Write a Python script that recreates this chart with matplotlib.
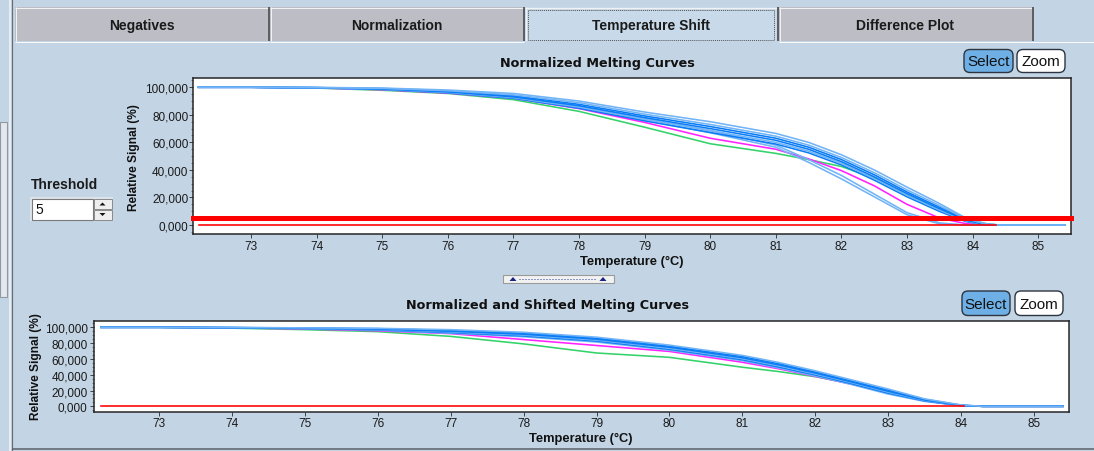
import matplotlib
matplotlib.use('Agg')
import matplotlib.pyplot as plt
from matplotlib.patches import Rectangle, FancyBboxPatch, Polygon
from matplotlib.ticker import MultipleLocator

plt.rcParams['font.family'] = ['Liberation Sans', 'DejaVu Sans']

# ---------------- data ----------------
TABS = ['Negatives', 'Normalization', 'Temperature Shift', 'Difference Plot']
TOP_TITLE = 'Normalized Melting Curves'
BOT_TITLE = 'Normalized and Shifted Melting Curves'
XLABEL = 'Temperature (°C)'
YLABEL = 'Relative Signal (%)'
XTICKS = [73, 74, 75, 76, 77, 78, 79, 80, 81, 82, 83, 84, 85]
YTICKS = [0, 20, 40, 60, 80, 100]
YTICK_LABELS = ['0,000', '20,000', '40,000', '60,000', '80,000', '100,000']
THRESHOLD = 5

# top panel: normalized curves
T_TOP = [72.2, 73.0, 74.0, 75.0, 76.0, 77.0, 78.0, 79.0, 80.0, 81.0, 81.5, 82.0, 82.5, 83.0, 83.5, 83.9, 84.2, 84.4, 85.4]
TOP_U1 = [100, 100, 99.9, 99.4, 98.0, 95.5, 90.0, 82.0, 75.0, 66.5, 60.0, 51.0, 40.0, 27.5, 15.5, 5.0, 1.0, 0, 0]
TOP_U2 = [100, 100, 99.8, 99.2, 97.5, 94.5, 88.8, 80.5, 73.0, 64.5, 58.0, 49.0, 38.0, 25.5, 14.0, 4.5, 0.8, 0, 0]
TOP_U3 = [100, 100, 99.7, 99.0, 97.1, 93.8, 87.6, 79.2, 71.5, 63.0, 56.5, 47.5, 36.5, 24.0, 12.8, 4.0, 0.5, 0, 0]
TOP_U4 = [100, 100, 99.7, 98.8, 96.7, 93.1, 86.6, 78.0, 70.0, 61.5, 55.0, 46.0, 35.0, 22.8, 11.8, 3.5, 0.3, 0, 0]
TOP_U5 = [100, 100, 99.6, 98.6, 96.3, 92.5, 85.6, 76.8, 68.6, 60.0, 53.6, 44.8, 33.8, 21.6, 10.8, 3.0, 0, 0, 0]
TOP_U6 = [100, 100, 99.6, 98.5, 96.0, 92.0, 84.8, 75.6, 67.2, 58.8, 52.4, 43.6, 32.6, 20.5, 9.8, 2.5, 0, 0, 0]
TOP_L1 = [100, 100, 99.7, 98.7, 96.6, 92.8, 86.2, 77.5, 68.5, 58.0, 47.5, 36.0, 22.5, 9.0, 1.5, 0, 0, 0, 0]
TOP_L2 = [100, 100, 99.6, 98.5, 96.3, 92.2, 85.3, 76.3, 67.0, 56.5, 45.5, 33.5, 20.5, 7.5, 0.8, 0, 0, 0, 0]
TOP_MAG = [100, 100, 99.5, 98.2, 95.8, 92.0, 84.5, 74.5, 63.0, 55.0, 48.0, 39.5, 28.5, 15.0, 5.0, 1.0, 0, 0, 0]
TOP_GRN = [100, 100, 99.4, 97.8, 95.5, 91.0, 82.5, 71.0, 59.0, 52.0, 47.5, 42.5, 34.0, 21.5, 11.0, 4.0, 1.0, 0, 0]
TOP_RED_T = [72.2, 84.35]
TOP_RED = [0, 0]

# bottom panel: normalized and shifted curves
T_BOT = [72.2, 73.0, 74.0, 75.0, 76.0, 77.0, 78.0, 79.0, 80.0, 81.0, 81.5, 82.0, 82.5, 83.0, 83.5, 84.0, 84.3, 85.4]
BOT_S1 = [100, 100, 99.8, 99.3, 98.7, 97.0, 93.7, 87.5, 77.5, 64.5, 55.5, 45.0, 33.5, 22.0, 9.5, 1.8, 0, 0]
BOT_S2 = [100, 100, 99.7, 99.1, 98.3, 96.0, 92.5, 86.2, 76.0, 63.0, 54.0, 43.5, 32.0, 20.5, 8.8, 1.5, 0, 0]
BOT_S3 = [100, 100, 99.6, 98.9, 97.8, 95.0, 91.3, 85.0, 74.8, 61.5, 52.5, 42.2, 31.0, 19.2, 8.2, 1.3, 0, 0]
BOT_S4 = [100, 100, 99.5, 98.7, 97.3, 94.2, 90.2, 83.8, 73.5, 60.3, 51.2, 41.0, 30.0, 18.0, 7.6, 1.1, 0, 0]
BOT_S5 = [100, 100, 99.4, 98.5, 96.8, 93.3, 89.1, 82.6, 72.2, 59.0, 49.8, 39.8, 28.8, 16.8, 7.0, 1.0, 0, 0]
BOT_S6 = [100, 100, 99.3, 98.3, 96.4, 92.5, 88.0, 81.4, 71.0, 57.8, 48.5, 38.5, 27.6, 15.6, 6.3, 0.8, 0, 0]
BOT_MAG = [100, 100, 99.3, 97.9, 95.6, 92.0, 84.5, 77.0, 69.5, 55.8, 47.5, 38.0, 28.0, 17.0, 6.8, 1.0, 0, 0]
BOT_GRN = [100, 100, 98.9, 97.0, 94.5, 88.5, 79.0, 67.5, 62.0, 49.5, 44.0, 37.5, 28.8, 18.5, 7.2, 1.0, 0, 0]
BOT_RED_T = [72.2, 84.05]
BOT_RED = [0, 0]

# ---------------- style ----------------
W, H = 1094, 452
BG = '#C3D5E5'
TAB_GRAY = '#BDBEC5'
BLUE = '#0A7CF5'
LBLUE = '#72B4F5'
MAGENTA = '#FF22FF'
GREEN = '#33D36A'
RED = '#FF0000'
PX = 0.72  # points per pixel at 100 dpi

fig = plt.figure(figsize=(W / 100, H / 100), dpi=100)
fig.patch.set_facecolor(BG)

ui = fig.add_axes([0, 0, 1, 1])
ui.set_xlim(0, W)
ui.set_ylim(H, 0)
ui.axis('off')
ui.set_zorder(0)


def rect_px(x0, y0, x1, y1):
    return [x0 / W, 1 - y1 / H, (x1 - x0) / W, (y1 - y0) / H]


def hline(x0, x1, y, color, lw=1):
    ui.plot([x0, x1], [y, y], color=color, lw=lw * PX, solid_capstyle='butt')


def vline(x, y0, y1, color, lw=1):
    ui.plot([x, x], [y0, y1], color=color, lw=lw * PX, solid_capstyle='butt')


# left frame pieces
ui.add_patch(Rectangle((0, 123), 7, 175, facecolor='#E4E8EE', edgecolor='#9098A0', lw=0.8))
vline(9.5, 0, H, '#F4F6F8', 1.5)
vline(12, 0, H, '#6A6E74', 1.2)
hline(12, W, 449.5, '#5A5E64', 1.5)

# tabs
tab_x = [(15, 268), (270, 523), (525, 777), (779, 1032)]
for i, (name, (x0, x1)) in enumerate(zip(TABS, tab_x)):
    selected = (i == 2)
    face = '#C8DAEA' if selected else TAB_GRAY
    ui.add_patch(Rectangle((x0, 8), x1 - x0, 34, facecolor=face, edgecolor='none'))
    hline(x0, x1, 8.5, '#F2F2F2', 1)
    vline(x0 + 0.5, 8, 42, '#F2F2F2', 1)
    vline(x1 + 0.5, 8, 42, '#3A3A3A', 1.5)
    if not selected:
        hline(x0, x1 + 1, 42.5, '#FAFAFA', 1)
    else:
        ui.add_patch(Rectangle((x0 + 3, 10.5), x1 - x0 - 6, 30, facecolor='none',
                               edgecolor='#505050', lw=0.7, ls=(0, (1, 1))))
    ui.text((x0 + x1) / 2, 26, name, ha='center', va='center', fontsize=10,
            fontweight='bold', color='#1A1A1A')
hline(1032, W, 42.5, '#FAFAFA', 1)

# titles / labels (pixel positions)
ui.text(597, 63.5, TOP_TITLE, ha='center', va='center', fontsize=9.2, fontweight='bold',
        family='DejaVu Sans', color='#111111')
ui.text(547.5, 306, BOT_TITLE, ha='center', va='center', fontsize=9.2, fontweight='bold',
        family='DejaVu Sans', color='#111111')
ui.text(632, 262, XLABEL, ha='center', va='center', fontsize=9.3, fontweight='bold', color='#111111')
ui.text(581, 438.5, XLABEL, ha='center', va='center', fontsize=9.3, fontweight='bold', color='#111111')
ui.text(134.3, 157.2, YLABEL, ha='center', va='center', rotation=90, fontsize=8.6,
        fontweight='bold', color='#111111')
ui.text(36.2, 367, YLABEL, ha='center', va='center', rotation=90, fontsize=8.6,
        fontweight='bold', color='#111111')


# Select / Zoom buttons
def buttons(y0, y1, sx0, sx1, zx0, zx1):
    ui.add_patch(FancyBboxPatch((sx0, y0), sx1 - sx0, y1 - y0,
                                boxstyle='round,pad=0,rounding_size=6',
                                facecolor='#6EB0E6', edgecolor='#2C3440', lw=1.0))
    ui.add_patch(FancyBboxPatch((zx0, y0), zx1 - zx0, y1 - y0,
                                boxstyle='round,pad=0,rounding_size=6',
                                facecolor='white', edgecolor='#2C3440', lw=1.0))
    ui.text((sx0 + sx1) / 2, (y0 + y1) / 2 + 0.5, 'Select', ha='center', va='center',
            fontsize=11, color='#111111')
    ui.text((zx0 + zx1) / 2, (y0 + y1) / 2 + 0.5, 'Zoom', ha='center', va='center',
            fontsize=11, color='#111111')


buttons(50.5, 73.5, 964, 1013, 1017, 1065)
buttons(292, 316.5, 962, 1010, 1015, 1063)

# Threshold control
ui.text(31, 185, 'Threshold', ha='left', va='center', fontsize=10, fontweight='bold', color='#1A1A1A')
ui.add_patch(Rectangle((30, 198), 83, 24, facecolor='#DDE3EA', edgecolor='none'))
ui.add_patch(Rectangle((31.5, 199.5), 61, 21, facecolor='white', edgecolor='#7A7A7A', lw=0.8))
ui.text(35, 210.5, '5', ha='left', va='center', fontsize=10, color='#111111')
for (yy0, yy1, up) in [(200, 210, True), (210.5, 220.5, False)]:
    ui.add_patch(Rectangle((93.5, yy0), 18, yy1 - yy0, facecolor='#EEEEEE', edgecolor='#8A8A8A', lw=0.7))
    cx, cy = 102.5, (yy0 + yy1) / 2
    if up:
        tri = [(cx - 3, cy + 1.5), (cx + 3, cy + 1.5), (cx, cy - 1.5)]
    else:
        tri = [(cx - 3, cy - 1.5), (cx + 3, cy - 1.5), (cx, cy + 1.5)]
    ui.add_patch(Polygon(tri, closed=True, facecolor='#111111', edgecolor='none'))

# splitter widget
ui.add_patch(Rectangle((503, 276), 111, 8, facecolor='#F2F2F2', edgecolor='#9A9A9A', lw=0.8))
for cx in (513, 603):
    ui.add_patch(Polygon([(cx - 3.5, 282), (cx + 3.5, 282), (cx, 278)], closed=True,
                         facecolor='#1A237E', edgecolor='none'))
ui.plot([519, 597], [280, 280], color='#2A3A9E', lw=1.0 * PX, ls=(0, (1, 2)))


# ---------------- plot axes ----------------
def style_axes(ax, xlim, ylim, ypad):
    ax.set_facecolor('white')
    ax.set_xlim(*xlim)
    ax.set_ylim(*ylim)
    for s in ax.spines.values():
        s.set_color('#222222')
        s.set_linewidth(1.5 * PX)
    ax.set_xticks(XTICKS)
    ax.set_xticklabels([str(t) for t in XTICKS])
    ax.set_yticks(YTICKS)
    ax.set_yticklabels(YTICK_LABELS)
    ax.yaxis.set_minor_locator(MultipleLocator(5))
    ax.tick_params(axis='x', which='major', length=4 * PX, width=0.8 * PX, color='#222222',
                   labelsize=8.5, pad=1.2, labelcolor='#1A1A1A')
    ax.tick_params(axis='y', which='major', length=4 * PX, width=0.8 * PX, color='#222222',
                   labelsize=8.5, pad=ypad, labelcolor='#1A1A1A')
    ax.tick_params(axis='y', which='minor', length=2 * PX, width=0.6 * PX, color='#444444')


def draw_curve(ax, x, y, color, lw=1.6, z=3):
    ax.plot(x, y, color=color, lw=lw * PX, zorder=z, solid_joinstyle='round')


# top axes
ax1 = fig.add_axes(rect_px(192.7, 79.3, 1071, 235))
style_axes(ax1, (72.11, 85.5), (-6.5, 106.5), 0.3)
draw_curve(ax1, T_TOP, TOP_GRN, GREEN)
draw_curve(ax1, T_TOP, TOP_MAG, MAGENTA)
for ys, c in [(TOP_L1, LBLUE), (TOP_L2, LBLUE), (TOP_U6, BLUE), (TOP_U5, LBLUE),
              (TOP_U4, BLUE), (TOP_U3, BLUE), (TOP_U2, LBLUE), (TOP_U1, LBLUE)]:
    draw_curve(ax1, T_TOP, ys, c, lw=1.6, z=4)
draw_curve(ax1, TOP_RED_T, TOP_RED, RED, lw=1.6, z=5)
ax1.axhline(THRESHOLD, color=RED, lw=5 * PX, zorder=6, clip_on=False)

# bottom axes
ax2 = fig.add_axes(rect_px(93.7, 322.3, 1068.7, 412.7))
style_axes(ax2, (72.1, 85.48), (-6.8, 107.6), 1.5)
draw_curve(ax2, T_BOT, BOT_GRN, GREEN)
draw_curve(ax2, T_BOT, BOT_MAG, MAGENTA)
for ys, c in [(BOT_S6, LBLUE), (BOT_S5, BLUE), (BOT_S4, LBLUE), (BOT_S3, BLUE),
              (BOT_S2, BLUE), (BOT_S1, LBLUE)]:
    draw_curve(ax2, T_BOT, ys, c, lw=1.6, z=4)
draw_curve(ax2, BOT_RED_T, BOT_RED, RED, lw=1.6, z=5)

fig.savefig('out.png', dpi=100, facecolor=BG)
